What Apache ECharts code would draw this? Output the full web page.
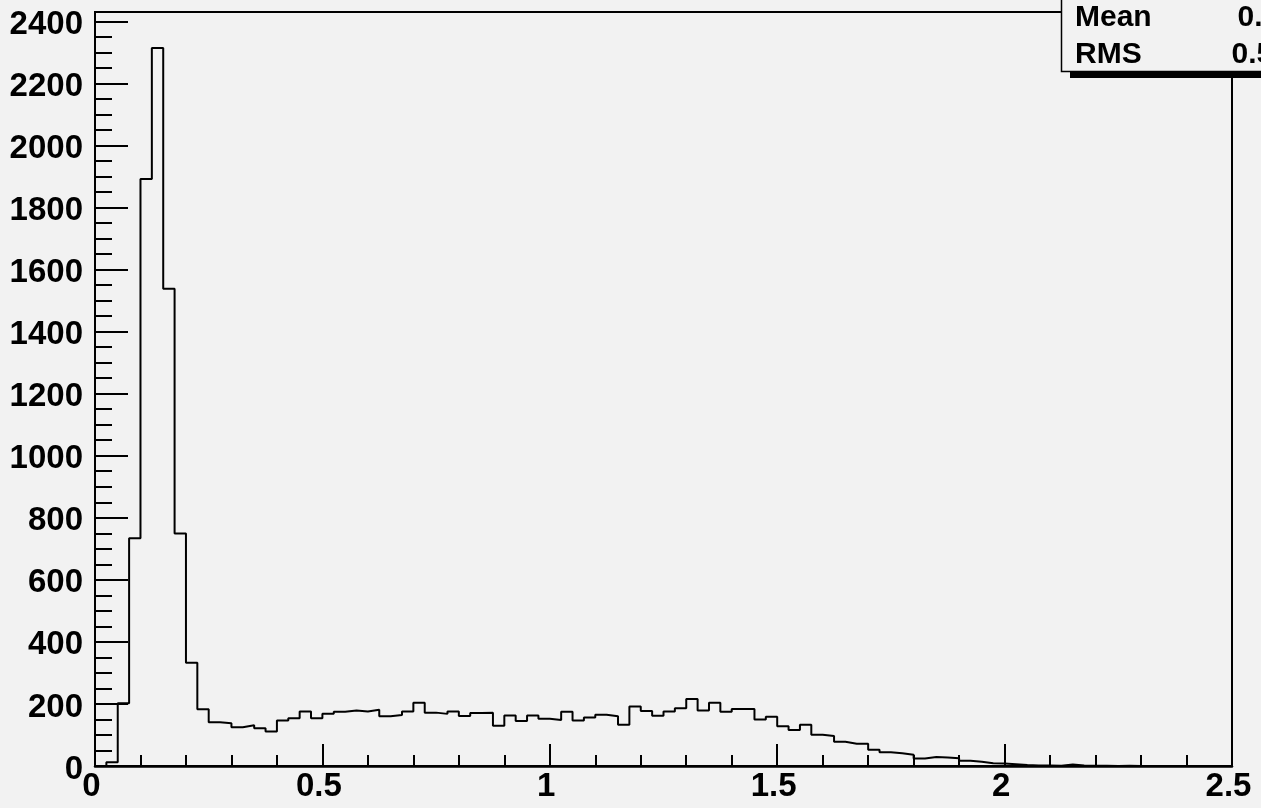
<!DOCTYPE html>
<html>
<head>
<meta charset="utf-8">
<script src="https://cdn.jsdelivr.net/npm/echarts@6/dist/echarts.min.js"></script>
<style>
  html, body { margin: 0; padding: 0; background: #f2f2f2; }
  #chart { width: 1261px; height: 808px; }
</style>
</head>
<body>
<div id="chart"></div>
<script>
// Histogram binning (100 bins of 0.025 from 0 to 2.5)
const binWidth = 0.025;
const xMin = 0;
const xMax = 2.5;
const yMax = 2430;

// Entries per bin, in bin order
const counts = [
  0, 12, 202, 734, 1892, 2314, 1538, 749, 333, 183,
  141, 138, 125, 131, 122, 111, 147, 154, 176, 154,
  168, 175, 179, 176, 181, 160, 164, 176, 204, 172,
  168, 176, 161, 171, 172, 130, 163, 145, 163, 152,
  148, 175, 147, 156, 165, 160, 133, 192, 177, 162,
  176, 186, 216, 179, 204, 175, 184, 184, 150, 159,
  128, 116, 133, 101, 97, 78, 72, 72, 52, 44,
  41, 36, 24, 29, 27, 25, 17, 14, 9, 8,
  6, 3, 2, 2, 1, 5, 2, 1, 1, 0,
  1, 0, 0, 0, 0, 0, 0, 0, 0, 0
];

// Axis tick labels
const xTickLabels = ['0', '0.5', '1', '1.5', '2', '2.5'];
const yTickStep = 200;
const yMinorStep = 50;

// Statistics box rows
const statNames = ['Mean', 'RMS'];

// Summary statistics from bin centres
let n = 0, sx = 0, sxx = 0;
counts.forEach((c, i) => {
  const xc = (i + 0.5) * binWidth;
  n += c; sx += c * xc; sxx += c * xc * xc;
});
const mean = sx / n;
const rms = Math.sqrt(sxx / n - mean * mean);
const statValues = [mean.toFixed(4), rms.toFixed(4)];

// Outline points: left edge of each bin, plus the closing right edge
const outline = counts.map((c, i) => [i * binWidth, c]);
outline.push([xMax, counts[counts.length - 1]]);

const FONT = '"Liberation Sans", Arial, sans-serif';
const chart = echarts.init(document.getElementById('chart'), null, { renderer: 'canvas' });

chart.setOption({
  backgroundColor: '#f2f2f2',
  animation: false,
  grid: {
    left: 95, right: 29, top: 12, bottom: 42,
    outerBoundsMode: 'none',
    containLabel: false,
    show: true, borderColor: '#000', borderWidth: 2, backgroundColor: 'transparent'
  },
  xAxis: {
    type: 'value', min: xMin, max: xMax, interval: 0.5,
    axisLine: { show: true, lineStyle: { color: '#000', width: 2.5 } },
    axisTick: { show: true, inside: true, length: 22, lineStyle: { color: '#000', width: 2 } },
    minorTick: { show: true, splitNumber: 5, length: 11, lineStyle: { color: '#000', width: 2 } },
    splitLine: { show: false },
    axisLabel: {
      margin: 4, color: '#000', fontWeight: 'bold', fontSize: 33, fontFamily: FONT,
      padding: [0, 7, 0, 0],
      formatter: (v) => xTickLabels[Math.round(v / 0.5)]
    }
  },
  yAxis: [
    {
      type: 'value', min: 0, max: yMax, interval: yTickStep,
      axisLine: { show: true, lineStyle: { color: '#000', width: 2 } },
      axisTick: { show: true, inside: true, length: 33, lineStyle: { color: '#000', width: 2 } },
      splitLine: { show: false },
      axisLabel: {
        margin: 12, color: '#000', fontWeight: 'bold', fontSize: 33, fontFamily: FONT,
        verticalAlign: 'top', lineHeight: 7,
        showMaxLabel: false,
        formatter: (v) => String(v)
      }
    },
    {
      type: 'value', min: 0, max: yMax, interval: yMinorStep, position: 'left',
      axisLine: { show: false },
      axisTick: { show: true, inside: true, length: 17, lineStyle: { color: '#000', width: 2 } },
      splitLine: { show: false },
      axisLabel: { show: false }
    }
  ],
  series: [{
    type: 'line',
    data: outline,
    step: 'end',
    symbol: 'none',
    silent: true,
    lineStyle: { color: '#000', width: 2 },
    z: 5
  }],
  graphic: [
    // statistics box with its drop shadow
    { type: 'rect', z: 100, shape: { x: 1070, y: -60, width: 300, height: 138 }, style: { fill: '#000' } },
    { type: 'rect', z: 101, shape: { x: 1061.5, y: -60, width: 300, height: 131.5 },
      style: { fill: '#f2f2f2', stroke: '#000', lineWidth: 1.5 } },
    { type: 'text', z: 102, x: 1075, y: 17.5,
      style: { text: statNames[0], font: 'bold 30px ' + FONT, fill: '#000', align: 'left', verticalAlign: 'middle' } },
    { type: 'text', z: 102, x: 1075, y: 54.5,
      style: { text: statNames[1], font: 'bold 30px ' + FONT, fill: '#000', align: 'left', verticalAlign: 'middle' } },
    { type: 'text', z: 102, x: 1237.5, y: 17.5,
      style: { text: statValues[0], font: 'bold 30px ' + FONT, fill: '#000', align: 'left', verticalAlign: 'middle' } },
    { type: 'text', z: 102, x: 1231.5, y: 54.5,
      style: { text: statValues[1], font: 'bold 30px ' + FONT, fill: '#000', align: 'left', verticalAlign: 'middle' } }
  ]
});
</script>
</body>
</html>
